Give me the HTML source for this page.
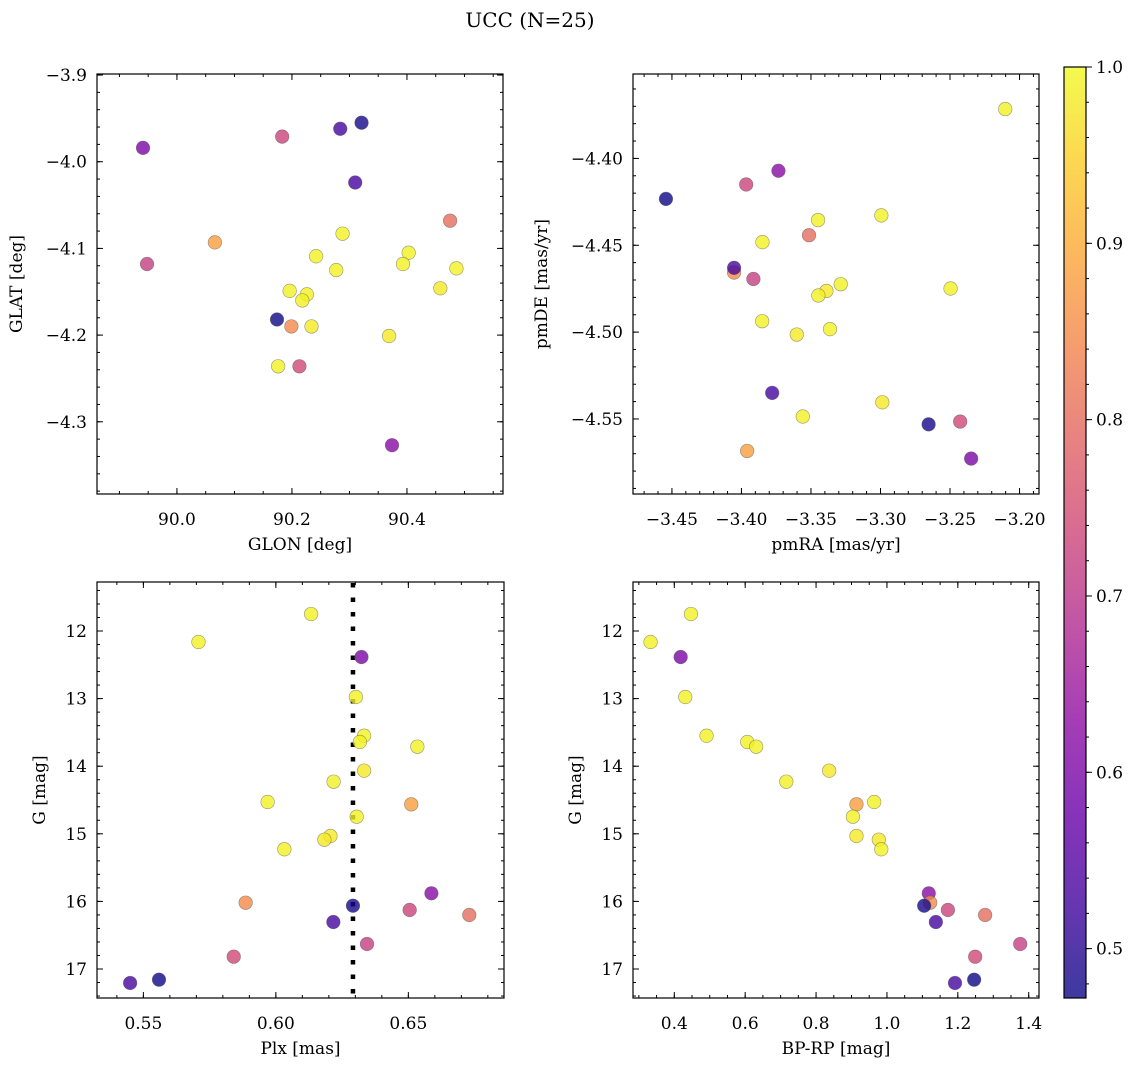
<!DOCTYPE html>
<html><head><meta charset="utf-8">
<style>
html,body{margin:0;padding:0;background:#fff;}
svg{display:block;font-family:"DejaVu Serif","Liberation Serif",serif;}
</style></head>
<body>
<svg id="fig" width="1136" height="1067" viewBox="0 0 1136 1067" xmlns="http://www.w3.org/2000/svg">
<text x="530" y="27" font-size="20" text-anchor="middle">UCC (N=25)</text>
</svg>
<script>
// membership probability per star
const prob = [0.99,0.99,0.60,0.99,0.99,0.99,0.99,0.98,0.99,0.99,0.88,0.99,0.98,0.98,0.99,0.62,0.85,0.48,0.73,0.80,0.53,0.72,0.74,0.47,0.53];
const glon = [90.288,90.242,89.941,90.403,90.393,90.486,90.277,90.458,90.196,90.226,90.066,90.218,90.234,90.369,90.176,90.374,90.199,90.321,90.183,90.475,90.284,89.948,90.213,90.174,90.310];
const glat = [-4.083,-4.109,-3.984,-4.105,-4.118,-4.123,-4.125,-4.146,-4.149,-4.153,-4.093,-4.160,-4.190,-4.201,-4.236,-4.327,-4.190,-3.955,-3.971,-4.068,-3.962,-4.118,-4.236,-4.182,-4.024];
const pmra = [-3.2103,-3.2994,-3.2348,-3.3449,-3.3849,-3.3286,-3.2496,-3.3389,-3.3447,-3.3851,-3.3959,-3.3363,-3.3602,-3.2987,-3.3559,-3.3734,-3.4053,-3.2654,-3.3966,-3.3514,-3.4053,-3.3914,-3.2427,-3.4543,-3.3779];
const pmde = [-4.3716,-4.4328,-4.5728,-4.4355,-4.4482,-4.4724,-4.4749,-4.4763,-4.4789,-4.4937,-4.5684,-4.4983,-4.5014,-4.5404,-4.5486,-4.4071,-4.4657,-4.5531,-4.4150,-4.4442,-4.4630,-4.4694,-4.5515,-4.4233,-4.5350];
const plx = [0.6133,0.5708,0.6323,0.6302,0.6333,0.6317,0.6534,0.6333,0.6218,0.5969,0.6511,0.6305,0.6206,0.6183,0.6032,0.6587,0.5886,0.6291,0.6505,0.6730,0.6217,0.6344,0.5841,0.5559,0.5450];
const bprp = [0.447,0.333,0.418,0.431,0.491,0.606,0.631,0.837,0.716,0.964,0.914,0.904,0.914,0.977,0.984,1.118,1.122,1.105,1.172,1.277,1.138,1.376,1.249,1.246,1.192];
const gmag = [11.749,12.163,12.385,12.976,13.549,13.642,13.711,14.066,14.229,14.530,14.564,14.747,15.033,15.087,15.229,15.880,16.019,16.064,16.127,16.201,16.305,16.630,16.818,17.158,17.207];
const plxMedian = 0.6291;
const ticksGlon = [90.0,90.2,90.4];
const ticksGlat = [-3.9,-4.0,-4.1,-4.2,-4.3];
const ticksPmra = [-3.45,-3.40,-3.35,-3.30,-3.25,-3.20];
const ticksPmde = [-4.40,-4.45,-4.50,-4.55];
const ticksPlx = [0.55,0.60,0.65];
const ticksBprp = [0.4,0.6,0.8,1.0,1.2,1.4];
const ticksG = [12,13,14,15,16,17];
const ticksCbar = [0.5,0.6,0.7,0.8,0.9,1.0];

const NS="http://www.w3.org/2000/svg";
const svg=document.getElementById('fig');
function mk(tag,attrs,parent){const e=document.createElementNS(NS,tag);for(const k in attrs)e.setAttribute(k,attrs[k]);(parent||svg).appendChild(e);return e;}
const vmin=0.472,vmax=1.0;
const stops=["#0d0887","#41049d","#6a00a8","#8f0da4","#b12a90","#cc4778","#e16462","#f2844b","#fca636","#fcce25","#f0f921"];
function hex(h){return [parseInt(h.substr(1,2),16),parseInt(h.substr(3,2),16),parseInt(h.substr(5,2),16)];}
function cmap(v){let t=(v-vmin)/(vmax-vmin);t=Math.max(0,Math.min(1,t));const f=t*10;const i=Math.min(9,Math.floor(f));const u=f-i;const a=hex(stops[i]),b=hex(stops[i+1]);return `rgb(${Math.round(a[0]+(b[0]-a[0])*u)},${Math.round(a[1]+(b[1]-a[1])*u)},${Math.round(a[2]+(b[2]-a[2])*u)})`;}
function fmt(v,d){const s=Math.abs(v).toFixed(d);return (v<0?"\u2212":"")+s;}

function panel(name,box,xd,yd,xt,yt,xminor,yminor,xdec,ydec,xs,ys,xlabel,ylabel,ylabX){
  const g=mk('g',{});
  
  
  const X=v=>box.x0+(v-xd[0])/(xd[1]-xd[0])*(box.x1-box.x0);
  const Y=v=>box.y0+(v-yd[0])/(yd[1]-yd[0])*(box.y1-box.y0);
  const xlo=Math.min(xd[0],xd[1]),xhi=Math.max(xd[0],xd[1]);
  for(let v=Math.ceil(xlo/xminor-1e-6)*xminor;v<=xhi+1e-9;v+=xminor){const px=X(v);
    mk('line',{x1:px,x2:px,y1:box.y1,y2:box.y1-3,stroke:'#000','stroke-width':1},g);
    mk('line',{x1:px,x2:px,y1:box.y0,y2:box.y0+3,stroke:'#000','stroke-width':1},g);}
  const ylo=Math.min(yd[0],yd[1]),yhi=Math.max(yd[0],yd[1]);
  for(let v=Math.ceil(ylo/yminor-1e-6)*yminor;v<=yhi+1e-9;v+=yminor){const py=Y(v);
    mk('line',{x1:box.x0,x2:box.x0+3,y1:py,y2:py,stroke:'#000','stroke-width':1},g);
    mk('line',{x1:box.x1,x2:box.x1-3,y1:py,y2:py,stroke:'#000','stroke-width':1},g);}
  xt.forEach(v=>{const px=X(v);
    mk('line',{x1:px,x2:px,y1:box.y1,y2:box.y1-6,stroke:'#000','stroke-width':1},g);
    mk('line',{x1:px,x2:px,y1:box.y0,y2:box.y0+6,stroke:'#000','stroke-width':1},g);
    const t=mk('text',{x:px,y:box.y1+31,'font-size':17,'text-anchor':'middle'},g);t.textContent=fmt(v,xdec);
    
    });
  yt.forEach(v=>{const py=Y(v);
    mk('line',{x1:box.x0,x2:box.x0+6,y1:py,y2:py,stroke:'#000','stroke-width':1},g);
    mk('line',{x1:box.x1,x2:box.x1-6,y1:py,y2:py,stroke:'#000','stroke-width':1},g);
    const t=mk('text',{x:box.x0-10,y:py+6,'font-size':17,'text-anchor':'end'},g);t.textContent=fmt(v,ydec);
    
    });
  if(name==='plx-panel'){
    const l=mk('line',{x1:X(plxMedian),x2:X(plxMedian),y1:box.y0+1,y2:box.y1,stroke:'#000','stroke-width':4.5,'stroke-dasharray':'4.5 10'},g);
    
    
  }
  prob.forEach((p,i)=>{
    const c=mk('circle',{cx:X(xs[i]),cy:Y(ys[i]),r:6.8,fill:cmap(p),'fill-opacity':0.8,stroke:'#555','stroke-opacity':0.6,'stroke-width':0.6},g);
    
    
  });
  const fr=mk('rect',{x:box.x0,y:box.y0,width:box.x1-box.x0,height:box.y1-box.y0,fill:'none',stroke:'#000','stroke-width':1.2},g);
  
  
  const xl=mk('text',{x:(box.x0+box.x1)/2,y:box.y1+56,'font-size':17,'text-anchor':'middle'},g);xl.textContent=xlabel;
  
  
  const cy=(box.y0+box.y1)/2;
  const yl=mk('text',{x:ylabX,y:cy,'font-size':17,'text-anchor':'middle',transform:`rotate(-90 ${ylabX} ${cy})`},g);yl.textContent=ylabel;
  
  
}
panel('position-panel',{x0:97,x1:503,y0:74,y1:494},[89.861,90.567],[-3.8988,-4.3833],ticksGlon,ticksGlat,0.05,0.02,1,1,glon,glat,'GLON [deg]','GLAT [deg]',22);
panel('pm-panel',{x0:633,x1:1039,y0:74,y1:494},[-3.478,-3.186],[-4.3514,-4.5932],ticksPmra,ticksPmde,0.01,0.01,2,2,pmra,pmde,'pmRA [mas/yr]','pmDE [mas/yr]',547);
panel('plx-panel',{x0:97,x1:504,y0:582,y1:998},[0.5325,0.6861],[11.275,17.429],ticksPlx,ticksG,0.01,0.2,2,0,plx,gmag,'Plx [mas]','G [mag]',45);
panel('cmd-panel',{x0:633,x1:1039,y0:582,y1:998},[0.2835,1.429],[11.275,17.429],ticksBprp,ticksG,0.05,0.2,1,0,bprp,gmag,'BP-RP [mag]','G [mag]',581);

const cb={x0:1064,x1:1086,y0:67,y1:998};
const cg=mk('g',{});


const defs=mk('defs',{},svg);
const grad=mk('linearGradient',{id:'cbg',x1:0,y1:1,x2:0,y2:0},defs);
for(let k=0;k<=20;k++){const v=vmin+(vmax-vmin)*k/20;mk('stop',{offset:k/20,'stop-color':cmap(v),'stop-opacity':0.8},grad);}
mk('rect',{x:cb.x0,y:cb.y0,width:cb.x1-cb.x0,height:cb.y1-cb.y0,fill:'url(#cbg)',stroke:'#000','stroke-width':1.2},cg);
const CY=v=>cb.y1-(v-vmin)/(vmax-vmin)*(cb.y1-cb.y0);
for(let v=0.48;v<=1.0001;v+=0.02){const py=CY(v);mk('line',{x1:cb.x1,x2:cb.x1+3,y1:py,y2:py,stroke:'#000','stroke-width':1},cg);}
ticksCbar.forEach(v=>{const py=CY(v);
  mk('line',{x1:cb.x1,x2:cb.x1+6,y1:py,y2:py,stroke:'#000','stroke-width':1},cg);
  const t=mk('text',{x:cb.x1+10,y:py+6,'font-size':17},cg);t.textContent=v.toFixed(1);
  
  });
</script>
</body></html>
